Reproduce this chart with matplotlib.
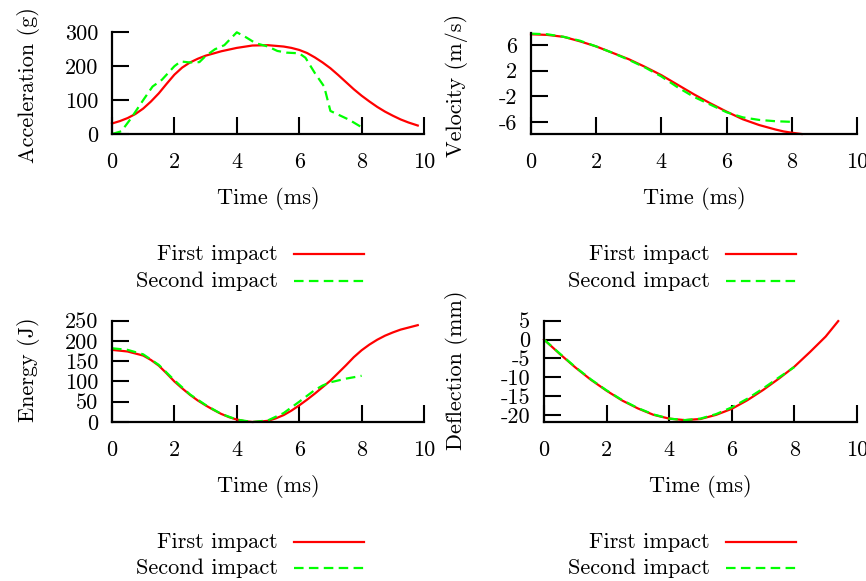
import matplotlib
matplotlib.use("Agg")
import matplotlib.pyplot as plt
from matplotlib.lines import Line2D

plt.rcParams['font.family'] = ['cmr10', 'DejaVu Serif']
plt.rcParams['axes.formatter.use_mathtext'] = True

# ---------------- data ----------------
t_acc1 = [0, 0.25, 0.5, 0.75, 1, 1.25, 1.5, 1.75, 2, 2.25, 2.5, 2.75, 3, 3.5, 4, 4.5, 5, 5.5, 5.75, 6,
          6.25, 6.5, 6.75, 7, 7.25, 7.5, 7.75, 8, 8.25, 8.5, 8.75, 9, 9.25, 9.5, 9.8]
acc1 = [31, 38, 47, 59, 75, 96, 120, 148, 175, 196, 211, 222, 231, 244, 254, 261, 262, 258, 254, 248,
        239, 226, 211, 194, 174, 153, 132, 113, 96, 80, 66, 54, 43, 34, 25]
t_acc2 = [0, 0.3, 0.6, 1.0, 1.3, 1.6, 2.0, 2.2, 2.5, 2.8, 3.0, 3.3, 3.6, 4.0, 4.3, 4.6, 5.0, 5.3, 5.6, 6.0,
          6.2, 6.5, 6.8, 7.0, 7.3, 7.6, 8.0]
acc2 = [0, 8, 45, 100, 140, 160, 200, 214, 211, 212, 230, 250, 262, 300, 285, 268, 258, 245, 240, 238,
        225, 180, 140, 68, 55, 42, 20]

t_vel1 = [0, 0.5, 1, 1.5, 2, 2.5, 3, 3.5, 4, 4.5, 5, 5.5, 6, 6.5, 7, 7.5, 7.75, 8, 8.3]
vel1 = [7.7, 7.6, 7.3, 6.6, 5.8, 4.8, 3.8, 2.6, 1.3, -0.2, -1.7, -3.1, -4.4, -5.6, -6.5, -7.2, -7.5, -7.7, -7.9]
t_vel2 = [0, 0.5, 1, 1.5, 2, 2.5, 3, 3.5, 4, 4.5, 5, 5.5, 6, 6.5, 7, 7.5, 8]
vel2 = [7.8, 7.7, 7.3, 6.7, 5.8, 4.8, 3.7, 2.5, 1.1, -0.6, -2.1, -3.3, -4.5, -5.3, -5.7, -5.9, -6.0]

t_en1 = [0, 0.5, 1, 1.25, 1.5, 1.75, 2, 2.25, 2.5, 2.75, 3, 3.25, 3.5, 3.75, 4, 4.25, 4.5, 4.75, 5, 5.25,
         5.5, 5.75, 6, 6.25, 6.5, 6.75, 7, 7.25, 7.5, 7.75, 8, 8.25, 8.5, 8.75, 9, 9.25, 9.5, 9.8]
en1 = [178, 174, 164, 153, 139, 120, 100, 83, 67, 53, 41, 30, 20, 12, 6, 2, 0, 1, 3, 9,
       17, 28, 41, 55, 70, 86, 102, 121, 140, 160, 177, 191, 203, 213, 221, 228, 233, 239]
t_en2 = [0, 0.5, 1, 1.5, 2, 2.5, 3, 3.5, 4, 4.5, 5, 5.5, 6, 6.5, 6.75, 7, 7.5, 8]
en2 = [182, 178, 167, 141, 103, 68, 42, 20, 6, 0, 4, 22, 50, 79, 90, 98, 107, 114]

t_def1 = [0, 0.5, 1, 1.5, 2, 2.5, 3, 3.5, 4, 4.5, 5, 5.5, 6, 6.5, 7, 7.5, 8, 8.5, 9, 9.4]
def1 = [0, -3.8, -7.4, -10.7, -13.6, -16.2, -18.3, -20.0, -21.0, -21.4, -21.1, -20.0, -18.4, -16.1, -13.4,
        -10.4, -7.2, -3.3, 0.8, 4.9]
t_def2 = [0, 0.5, 1, 1.5, 2, 2.5, 3, 3.5, 4, 4.5, 5, 5.5, 6, 6.5, 7, 7.5, 8]
def2 = [0, -3.7, -7.3, -10.6, -13.5, -16.1, -18.2, -19.9, -21.0, -21.4, -21.0, -19.8, -18.0, -15.7, -13.0,
        -10.1, -7.3]

x_ticks = [0, 2, 4, 6, 8, 10]
acc_ticks = [0, 100, 200, 300]
vel_ticks = [-6, -2, 2, 6]
en_ticks = [0, 50, 100, 150, 200, 250]
def_ticks = [-20, -15, -10, -5, 0, 5]

series_names = ["First impact", "Second impact"]

# ---------------- figure ----------------
W, H = 866, 581
fig = plt.figure(figsize=(W / 100, H / 100), dpi=100)

def px_axes(l, r, t, b):
    return fig.add_axes([l / W, 1 - b / H, (r - l) / W, (b - t) / H])

RED = '#ff0000'
GREEN = '#00ff00'
FS = 16
DASH = (4.3, 2.4)

panels = [
    (px_axes(112, 424, 32.3, 134), t_acc1, acc1, t_acc2, acc2, acc_ticks, (0, 300), "Acceleration (g)", 28, 85, 199, 278, 294, 364, 254, 281),
    (px_axes(531, 857, 33, 134), t_vel1, vel1, t_vel2, vel2, vel_ticks, (-7.9, 7.9), "Velocity (m/s)", 456, 85, 199, 710, 726, 796, 254, 281),
    (px_axes(112, 424, 320.7, 422), t_en1, en1, t_en2, en2, en_ticks, (0, 250), "Energy (J)", 28, 370, 487, 278, 294, 364, 542, 568),
    (px_axes(544, 857, 320.7, 422), t_def1, def1, t_def2, def2, def_ticks, (-21.9, 5), "Deflection (mm)", 456, 370, 487, 710, 726, 796, 542, 568),
]

for (ax, tx1, y1, tx2, y2, yt, ylim, ylab, ylx, yly, xly, leg_tx, leg_l0, leg_l1, leg_y1, leg_y2) in panels:
    l1, = ax.plot(tx1, y1, color=RED, lw=1.6, clip_on=False)
    l2, = ax.plot(tx2, y2, color=GREEN, lw=1.6, dashes=DASH, clip_on=False)
    ax.set_xlim(0, 10)
    ax.set_ylim(*ylim)
    ax.set_xticks(x_ticks)
    ax.set_xticklabels([str(v) for v in x_ticks])
    ax.set_yticks(yt)
    ax.set_yticklabels([str(v) for v in yt])
    for s in ('top', 'right'):
        ax.spines[s].set_visible(False)
    for s in ('left', 'bottom'):
        ax.spines[s].set_linewidth(1.6)
    ax.tick_params(axis='both', direction='in', length=12, width=1.5, labelsize=FS)
    ax.tick_params(axis='x', pad=13)
    ax.tick_params(axis='y', pad=10)
    ax.set_facecolor('none')
    # axis labels
    fig.text(ylx / W, 1 - yly / H, ylab, rotation=90, ha='center', va='center', fontsize=FS)
    pos = ax.get_position()
    fig.text((pos.x0 + pos.x1) / 2, 1 - xly / H, "Time (ms)", ha='center', va='center', fontsize=FS)
    # legend below
    for name, line, ly in ((series_names[0], l1, leg_y1), (series_names[1], l2, leg_y2)):
        fig.text(leg_tx / W, 1 - ly / H, name, ha='right', va='center', fontsize=FS)
        kw = dict(color=line.get_color(), lw=1.6)
        if line is l2:
            kw['dashes'] = DASH
        fig.add_artist(Line2D([leg_l0 / W, leg_l1 / W], [1 - ly / H, 1 - ly / H],
                              transform=fig.transFigure, **kw))

fig.savefig("out.png", dpi=100)
